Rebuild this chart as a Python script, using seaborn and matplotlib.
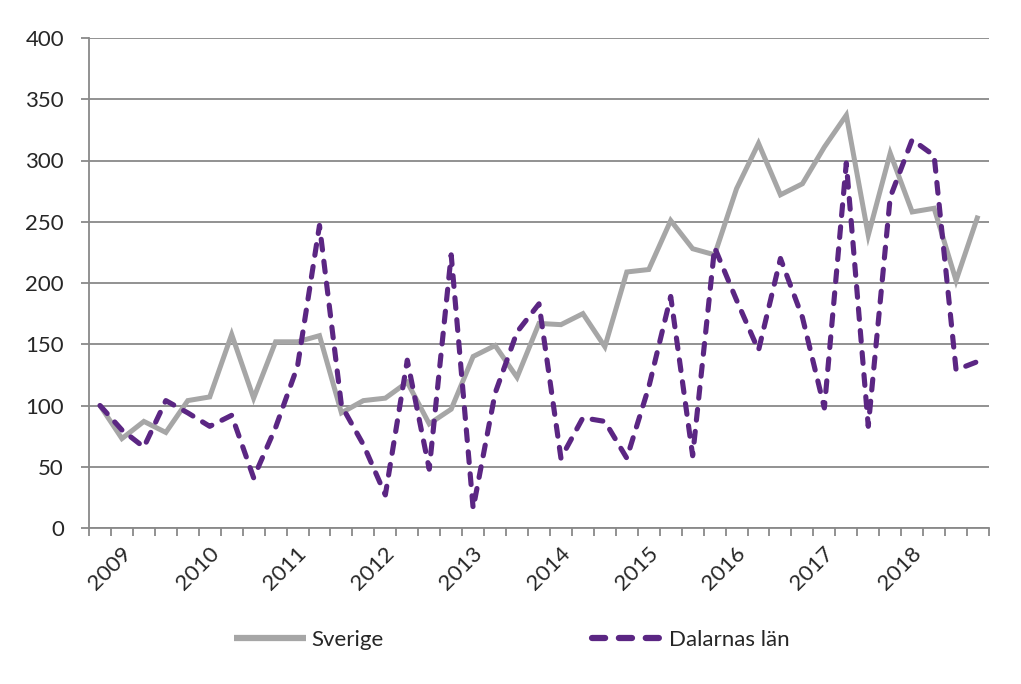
import numpy as np
import pandas as pd
import matplotlib
matplotlib.use("Agg")
import matplotlib.pyplot as plt
import matplotlib.transforms as mtransforms
from matplotlib.ticker import FixedLocator, MultipleLocator
import seaborn as sns

# quarterly index, 2009 Q1 .. 2019 Q1
years = ['2009', '2010', '2011', '2012', '2013', '2014', '2015', '2016', '2017', '2018']
sverige = [100, 73, 87, 78, 104, 107, 158, 106, 152, 152, 157, 94, 104, 106, 119, 85,
           97, 140, 149, 123, 167, 166, 175, 148, 209, 211, 251, 228, 223, 277, 314, 272,
           281, 311, 337, 239, 306, 258, 261, 202, 255]
dalarna = [100, 80, 66, 104, 94, 83, 92, 41, 82, 132, 247, 100, 68, 27, 137, 48,
           223, 16, 110, 160, 183, 57, 90, 87, 57, 115, 189, 59, 229, 186, 145, 220,
           172, 98, 298, 83, 270, 317, 304, 129, 136]

df = pd.DataFrame({'q': np.arange(len(sverige)), 'Sverige': sverige, 'Dalarnas län': dalarna})

sns.set_theme(style="white")
plt.rcParams['font.family'] = ['Lato', 'DejaVu Sans']

fig = plt.figure(figsize=(10.21, 6.84), dpi=100)
ax = fig.add_axes([89 / 1021, 156 / 684, 900 / 1021, 490 / 684])

grid_c = '#898989'
fs = 16
sns.lineplot(data=df, x='q', y='Sverige', ax=ax, color='#a6a6a6', linewidth=3.6,
             label='Sverige', solid_capstyle='butt', solid_joinstyle='miter')
sns.lineplot(data=df, x='q', y='Dalarnas län', ax=ax, color='#5b2683', linewidth=3.7,
             label='Dalarnas län', linestyle=(0, (2.1, 2.2)), dash_capstyle='round')

n = len(sverige)
ax.set_xlim(-0.5, n - 0.5)
ax.set_ylim(0, 400)
ax.yaxis.set_major_locator(MultipleLocator(50))
ax.grid(axis='y', color=grid_c, linewidth=1.3)
ax.set_axisbelow(True)

ax.xaxis.set_minor_locator(FixedLocator(np.arange(-0.5, n, 1)))
ax.set_xticks(np.arange(0, 4 * len(years), 4))
ax.set_xticklabels(years, rotation=45, ha='right', va='center', rotation_mode='anchor')
ax.tick_params(axis='x', which='minor', length=5.5, width=1.3, color=grid_c, direction='out', bottom=True)
ax.tick_params(axis='x', which='major', length=0, pad=16, labelsize=fs)
ax.tick_params(axis='y', length=6, width=1.3, color=grid_c, direction='out', left=True, labelsize=fs, pad=12)
offset = mtransforms.ScaledTranslation(0.28, 0, fig.dpi_scale_trans)
for lab in ax.get_xticklabels():
    lab.set_transform(lab.get_transform() + offset)

for s in ['top', 'right']:
    ax.spines[s].set_visible(False)
for s in ['left', 'bottom']:
    ax.spines[s].set_color(grid_c)
    ax.spines[s].set_linewidth(1.3)

ax.set_xlabel('')
ax.set_ylabel('')
ax.legend_.remove()
handles, labels = ax.get_legend_handles_labels()
leg = fig.legend(handles, labels, loc='center', bbox_to_anchor=(512 / 1021, 1 - 640 / 684), ncol=2,
                 frameon=False, fontsize=fs, handlelength=3.2, columnspacing=9.4, handletextpad=0.25)
for h in leg.get_lines():
    h.set_linewidth(4.5)

fig.savefig('out.png', dpi=100, facecolor='white')
